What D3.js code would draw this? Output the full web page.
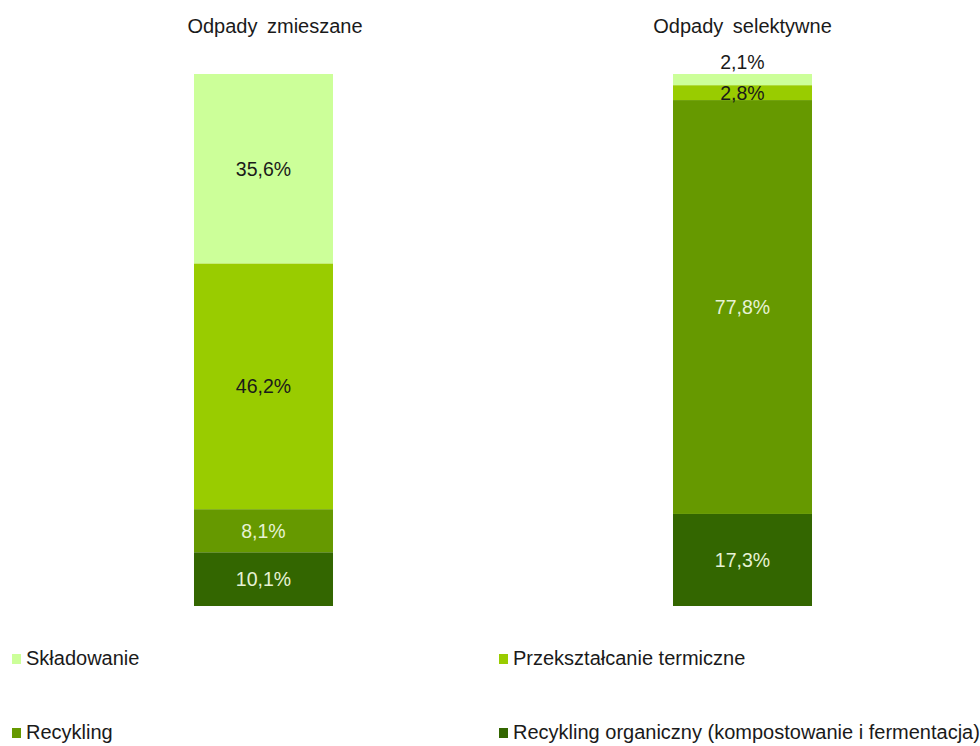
<!DOCTYPE html>
<html><head><meta charset="utf-8">
<script src="https://cdn.jsdelivr.net/npm/d3@7"></script>
<style>body{margin:0;background:#fff}svg{display:block}text{font-family:"Liberation Sans",Arial,sans-serif}</style>
</head><body><svg id="c" width="980" height="746"></svg>
<script>
const categories = ["Odpady zmieszane", "Odpady selektywne"];
const seriesNames = ["Recykling organiczny (kompostowanie i fermentacja)", "Recykling", "Przekształcanie termiczne", "Składowanie"];
const organic = [10.1, 17.3];
const recycling = [8.1, 77.8];
const thermal = [46.2, 2.8];
const landfill = [35.6, 2.1];
const colors = ["#336600", "#669900", "#99CC00", "#CCFF99"];
const labelColors = ["#e6f2d4", "#e6f2d4", "#1a1a1a", "#1a1a1a"];
const legendOrder = [3, 2, 1, 0];

const svg = d3.select("#c");
const seriesVals = [organic, recycling, thermal, landfill];
const data = categories.map((c, i) => {
  const o = {cat: c};
  seriesNames.forEach((s, k) => o[s] = seriesVals[k][i]);
  return o;
});
const stack = d3.stack().keys(seriesNames)(data);

const x = d3.scaleBand().domain(categories).range([0, 1006]).paddingInner(0.7098).paddingOuter(0.405);
const y = d3.scaleLinear().domain([0, 100]).range([606, 74]);
const titleDx = [11.5, 0];

svg.selectAll(".title").data(categories).join("text")
  .attr("x", (d, i) => x(d) + x.bandwidth() / 2 + titleDx[i])
  .attr("y", 33).attr("text-anchor", "middle").attr("word-spacing", 4)
  .attr("font-size", 20).attr("fill", "#1a1a1a").text(d => d);

const g = svg.selectAll(".layer").data(stack).join("g").attr("fill", (d, i) => colors[i]);
g.selectAll("rect").data(d => d).join("rect")
  .attr("x", d => x(d.data.cat)).attr("width", x.bandwidth())
  .attr("y", d => y(d[1])).attr("height", d => y(d[0]) - y(d[1]));

stack.forEach((layer, k) => {
  svg.append("g").selectAll("text").data(layer).join("text")
    .attr("x", d => x(d.data.cat) + x.bandwidth() / 2)
    .attr("y", d => {
      const v = d[1] - d[0];
      if (v < 2.5) return y(d[1]) - 12;
      return (y(d[0]) + y(d[1])) / 2;
    })
    .attr("dy", "0.36em").attr("text-anchor", "middle").attr("font-size", 19.5)
    .attr("fill", d => (d[1] - d[0] < 2.5) ? "#1a1a1a" : labelColors[k])
    .text(d => d3.format(".1f")(d[1] - d[0]).replace(".", ",") + "%");
});

const legendX = [12, 499];
const legendY = [665, 739];
legendOrder.forEach((k, i) => {
  const lx = legendX[i % 2], ly = legendY[Math.floor(i / 2)];
  svg.append("rect").attr("x", lx).attr("y", ly - 11).attr("width", 9).attr("height", 10).attr("fill", colors[k]);
  svg.append("text").attr("x", lx + 14).attr("y", ly).attr("font-size", 20).attr("fill", "#1a1a1a").text(seriesNames[k]);
});
</script></body></html>
